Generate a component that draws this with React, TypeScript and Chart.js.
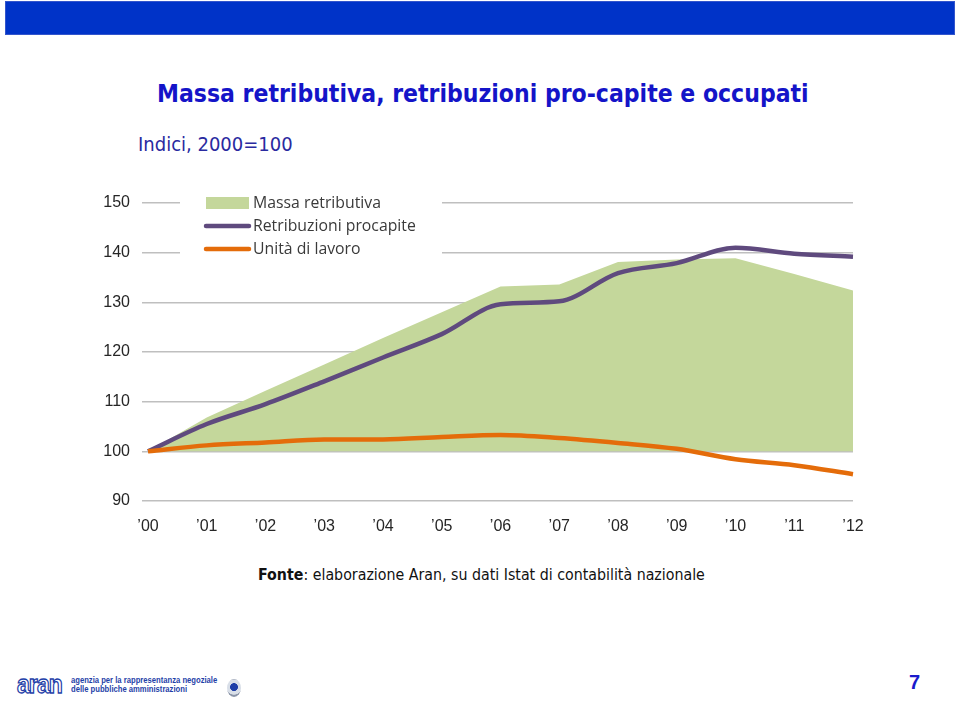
import React, { useEffect, useRef } from "react";
import { Chart, registerables } from "chart.js";

Chart.register(...registerables);

const years = ["’00", "’01", "’02", "’03", "’04", "’05", "’06", "’07", "’08", "’09", "’10", "’11", "’12"];
const massaRetributiva = [100, 106.8, 112.2, 117.5, 122.8, 128.0, 133.2, 133.6, 138.1, 138.6, 138.9, 135.7, 132.4];
const retribuzioniProcapite = [100, 105.5, 109.5, 114.1, 118.9, 123.6, 129.6, 130.2, 135.9, 137.9, 141.0, 139.8, 139.2];
const unitaDiLavoro = [100, 101.2, 101.8, 102.4, 102.4, 102.9, 103.3, 102.7, 101.7, 100.5, 98.4, 97.2, 95.4];
const yMin = 90;
const yMax = 150;
const yStep = 10;

const CANVAS_LEFT = 90;
const CANVAS_TOP = 180;

const legendPlugin = {
  id: "customLegend",
  beforeDatasetsDraw(chart: any) {
    const ctx = chart.ctx as CanvasRenderingContext2D;
    const ox = -CANVAS_LEFT;
    const oy = -CANVAS_TOP;
    ctx.save();
    ctx.fillStyle = "#ffffff";
    ctx.fillRect(180 + ox, 190 + oy, 262, 72);
    const ds = chart.data.datasets;
    const rows = [203, 226, 249];
    ctx.font = "15.8px 'Open Sans', sans-serif";
    ctx.textBaseline = "middle";
    ctx.textAlign = "left";
    ds.forEach((d: any, i: number) => {
      const y = rows[i] + oy;
      if (i === 0) {
        ctx.fillStyle = d.backgroundColor;
        ctx.fillRect(206 + ox, y - 6, 43, 12);
      } else {
        ctx.strokeStyle = d.borderColor;
        ctx.lineWidth = 4.5;
        ctx.lineCap = "round";
        ctx.beginPath();
        ctx.moveTo(206 + ox, y);
        ctx.lineTo(249 + ox, y);
        ctx.stroke();
      }
      ctx.fillStyle = "#3a3a3a";
      ctx.fillText(d.label, 253 + ox, y);
    });
    ctx.restore();
  },
};

function ChartBox() {
  const ref = useRef<HTMLCanvasElement | null>(null);
  useEffect(() => {
    if (!ref.current) return;
    const chart = new Chart(ref.current, {
      type: "line",
      data: {
        labels: years,
        datasets: [
          {
            label: "Massa retributiva",
            data: massaRetributiva,
            backgroundColor: "#c4d79b",
            borderColor: "#c4d79b",
            borderWidth: 0,
            fill: { value: 100 },
            pointRadius: 0,
            tension: 0,
            order: 3,
          },
          {
            label: "Retribuzioni procapite",
            data: retribuzioniProcapite,
            borderColor: "#5f4a7e",
            backgroundColor: "#5f4a7e",
            borderWidth: 4.5,
            fill: false,
            pointRadius: 0,
            cubicInterpolationMode: "monotone",
            order: 2,
          },
          {
            label: "Unità di lavoro",
            data: unitaDiLavoro,
            borderColor: "#e46c0a",
            backgroundColor: "#e46c0a",
            borderWidth: 4.5,
            fill: false,
            pointRadius: 0,
            cubicInterpolationMode: "monotone",
            order: 1,
          },
        ],
      },
      options: {
        responsive: false,
        animation: false,
        devicePixelRatio: 1,
        layout: { padding: { top: 23, right: 37, left: 0, bottom: 0 } },
        plugins: { legend: { display: false }, tooltip: { enabled: false } },
        scales: {
          x: {
            grid: { display: false },
            border: { display: false },
            ticks: {
              color: "#262626",
              font: { family: "'Liberation Sans', Arial, sans-serif", size: 16 },
              padding: 8,
              maxRotation: 0,
              autoSkip: false,
            },
            afterFit: (s: any) => {
              s.height = 49;
            },
          },
          y: {
            min: yMin,
            max: yMax,
            grid: { color: "#bfbfbf", lineWidth: 1.5, tickLength: 6 },
            border: { display: false },
            ticks: {
              stepSize: yStep,
              color: "#262626",
              font: { family: "'Liberation Sans', Arial, sans-serif", size: 16 },
              padding: 12,
            },
            afterFit: (s: any) => {
              s.width = 58;
            },
          },
        },
      },
      plugins: [legendPlugin],
    } as any);
    return () => chart.destroy();
  }, []);
  return (
    <canvas
      ref={ref}
      width={800}
      height={370}
      style={{ position: "absolute", left: CANVAS_LEFT, top: CANVAS_TOP, width: 800, height: 370 }}
    />
  );
}

export default function App() {
  return (
    <div
      style={{
        position: "absolute",
        left: 0,
        top: 0,
        width: 960,
        height: 701,
        background: "#ffffff",
        overflow: "hidden",
        fontFamily: "'DejaVu Sans', sans-serif",
      }}
    >
      <div
        style={{
          position: "absolute",
          left: 5,
          top: 1,
          width: 950,
          height: 34,
          background: "#0033c8",
          boxShadow: "0 0 0 1px #3355cc inset",
        }}
      />
      <div
        style={{
          position: "absolute",
          left: 157,
          top: 77,
          fontFamily: "'DejaVu Sans Condensed', 'DejaVu Sans', sans-serif",
          fontWeight: "bold",
          fontSize: 24.5,
          color: "#1414c8",
          whiteSpace: "nowrap",
          lineHeight: "34px",
        }}
      >
        Massa retributiva, retribuzioni pro-capite e occupati
      </div>
      <div
        style={{
          position: "absolute",
          left: 138,
          top: 131,
          fontFamily: "'DejaVu Sans Condensed', 'DejaVu Sans', sans-serif",
          fontSize: 20,
          color: "#2a2aa0",
          whiteSpace: "nowrap",
          lineHeight: "26px",
        }}
      >
        Indici, 2000=100
      </div>
      <ChartBox />
      <div
        style={{
          position: "absolute",
          left: 258,
          top: 565,
          fontFamily: "'DejaVu Sans Condensed', 'DejaVu Sans', sans-serif",
          fontSize: 15.8,
          color: "#111111",
          whiteSpace: "nowrap",
          lineHeight: "20px",
        }}
      >
        <b>Fonte</b>: elaborazione Aran, su dati Istat di contabilità nazionale
      </div>
      <div
        style={{
          position: "absolute",
          left: 17,
          top: 672,
          fontFamily: "'Liberation Sans', Arial, sans-serif",
          fontSize: 25,
          fontWeight: "bold",
          color: "#ffffff",
          WebkitTextStroke: "1.3px #1f3fa8",
          lineHeight: "25px",
          letterSpacing: -1,
          whiteSpace: "nowrap",
          transform: "scaleX(0.92)",
          transformOrigin: "left top",
        }}
      >
        aran
      </div>
      <div
        style={{
          position: "absolute",
          left: 71,
          top: 676,
          fontFamily: "'Liberation Sans', Arial, sans-serif",
          fontSize: 8.5,
          fontWeight: "bold",
          color: "#1f3fa8",
          lineHeight: "8.5px",
          whiteSpace: "nowrap",
          transform: "scaleX(0.9)",
          transformOrigin: "left top",
        }}
      >
        agenzia per la rappresentanza negoziale
        <br />
        delle pubbliche amministrazioni
      </div>
      <div
        style={{
          position: "absolute",
          left: 227,
          top: 679,
          width: 14,
          height: 18,
          borderRadius: "50%",
          background: "radial-gradient(circle at 50% 45%, #1f3fa8 0 30%, #d9dfe8 35% 60%, #8a94a8 65%)",
        }}
      />
      <div
        style={{
          position: "absolute",
          left: 909,
          top: 670,
          fontFamily: "'Liberation Sans', Arial, sans-serif",
          fontSize: 20,
          fontWeight: "bold",
          color: "#1a1acc",
          lineHeight: "24px",
        }}
      >
        7
      </div>
    </div>
  );
}
